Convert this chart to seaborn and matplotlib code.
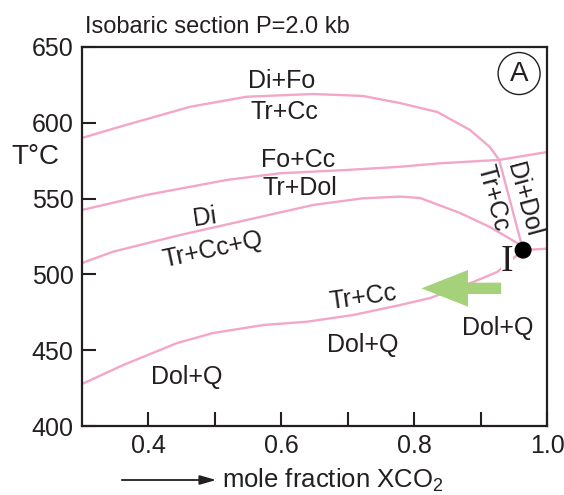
import numpy as np
import pandas as pd
import seaborn as sns
import matplotlib.pyplot as plt
from matplotlib.patches import Ellipse, FancyArrow

# Boundaries of the isobaric T-XCO2 section
difo_x = [0.300, 0.357, 0.463, 0.548, 0.648, 0.723, 0.779, 0.835, 0.884, 0.914, 0.928]
difo_t = [590.0, 597.4, 610.6, 617.2, 619.0, 617.7, 613.0, 607.1, 595.3, 584.0, 575.5]

focc_x = [0.300, 0.397, 0.518, 0.598, 0.699, 0.779, 0.839, 0.928, 1.000]
focc_t = [542.5, 552.4, 562.3, 566.7, 568.9, 571.0, 573.3, 575.5, 580.7]

di_x = [0.300, 0.347, 0.448, 0.548, 0.648, 0.723, 0.779, 0.809, 0.869, 0.914, 0.960, 0.964]
di_t = [507.5, 515.0, 526.0, 535.9, 545.8, 550.2, 551.3, 550.4, 540.5, 531.3, 519.4, 516.0]

dolq_x = [0.300, 0.362, 0.443, 0.497, 0.573, 0.639, 0.708, 0.779, 0.824, 0.889, 0.925, 0.964]
dolq_t = [427.7, 440.2, 454.7, 461.3, 466.6, 468.8, 473.2, 479.8, 484.4, 495.0, 501.6, 516.0]

didol_x = [0.928, 0.964]
didol_t = [575.5, 516.0]

right_x = [0.964, 1.000]
right_t = [516.0, 517.0]

inv_x = [0.964]
inv_t = [516.0]

# field labels: text, x, T, rotation
labels = [
    ("Di+Fo", 0.601, 627.7, 0),
    ("Tr+Cc", 0.604, 607.3, 0),
    ("Fo+Cc", 0.625, 575.5, 0),
    ("Tr+Dol", 0.628, 557.3, 0),
    ("Di", 0.485, 537.5, 8),
    ("Tr+Cc+Q", 0.497, 516.1, 12),
    ("Tr+Cc", 0.723, 485.0, 8),
    ("Dol+Q", 0.722, 453.4, 0),
    ("Dol+Q", 0.458, 432.5, 0),
    ("Dol+Q", 0.926, 464.4, 0),
    ("Tr+Cc", 0.919, 550.2, -75),
    ("Di+Dol", 0.964, 549.1, -75),
]

pink = '#f4a6c9'
dark = '#231f20'

sns.set_theme(style='white')
plt.rcParams['font.family'] = ['Liberation Sans', 'DejaVu Sans']
plt.rcParams['mathtext.fontset'] = 'custom'
plt.rcParams['mathtext.rm'] = 'Liberation Sans'

fig = plt.figure(figsize=(5.64, 4.95), dpi=100)
ax = fig.add_axes([82/564, 69/495, 465/564, 379/495])

curves = [(difo_x, difo_t), (focc_x, focc_t), (di_x, di_t), (dolq_x, dolq_t),
          (didol_x, didol_t), (right_x, right_t)]
for cx, ct in curves:
    df = pd.DataFrame({'x': cx, 't': ct})
    sns.lineplot(data=df, x='x', y='t', sort=False, estimator=None,
                 color=pink, linewidth=1.7, ax=ax)

sns.scatterplot(x=inv_x, y=inv_t, color='black', s=150, edgecolor='none', zorder=6, ax=ax)

# green arrow
ax.add_patch(FancyArrow(0.931, 490.8, -0.120, 0, width=7.5, head_width=24.2,
                        head_length=0.070, length_includes_head=True,
                        color='#a5d17b', ec='none', zorder=4))

for txt, lx, lt, rot in labels:
    ax.text(lx, lt, txt, fontsize=18, ha='center', va='center',
            rotation=rot, rotation_mode='anchor', color=dark)

ax.text(0.940, 508.5, "I", fontsize=27, family=['Liberation Serif', 'DejaVu Serif'],
        ha='center', va='center', color=dark, zorder=7,
        bbox=dict(facecolor='white', edgecolor='none', pad=0))

# circled A
ax.add_patch(Ellipse((0.940, 0.930), 42/465, 42/379, transform=ax.transAxes,
                     facecolor='none', edgecolor=dark, linewidth=1.0))
ax.text(0.940, 0.930, "A", transform=ax.transAxes, fontsize=20,
        ha='center', va='center', color=dark)

ax.set_xlim(0.3, 1.0)
ax.set_ylim(400, 650)
ax.set_xticks([0.4, 0.6, 0.8, 1.0])
ax.set_xticklabels(['0.4', '0.6', '0.8', '1.0'])
ax.set_xticks([0.5, 0.7, 0.9], minor=True)
ax.set_yticks([400, 450, 500, 550, 600, 650])
ax.tick_params(which='both', direction='in', length=10, width=1.5,
               color=dark, labelcolor=dark, labelsize=18, pad=6,
               bottom=True, left=True)
ax.set_xlabel('')
ax.set_ylabel('')
for s in ax.spines.values():
    s.set_color(dark)
    s.set_linewidth(1.6)

fig.text(85/564, (495-33)/495, "Isobaric section P=2.0 kb", fontsize=17,
         ha='left', va='baseline', color=dark)
fig.text(35/564, (495-157)/495, "T°C", fontsize=20, ha='center', va='center', color=dark)
fig.text(222/564, (495-480)/495, r"mole fraction XCO$\mathregular{_2}$", fontsize=18.5,
         ha='left', va='center', color=dark)
fig.add_artist(plt.Annotation('', xy=(219, 15), xytext=(119, 15),
                              xycoords='figure pixels', textcoords='figure pixels',
                              arrowprops=dict(arrowstyle='-|>,head_length=0.7,head_width=0.2',
                                              color=dark, lw=1.3, mutation_scale=14)))

fig.savefig('out.png', dpi=100)
